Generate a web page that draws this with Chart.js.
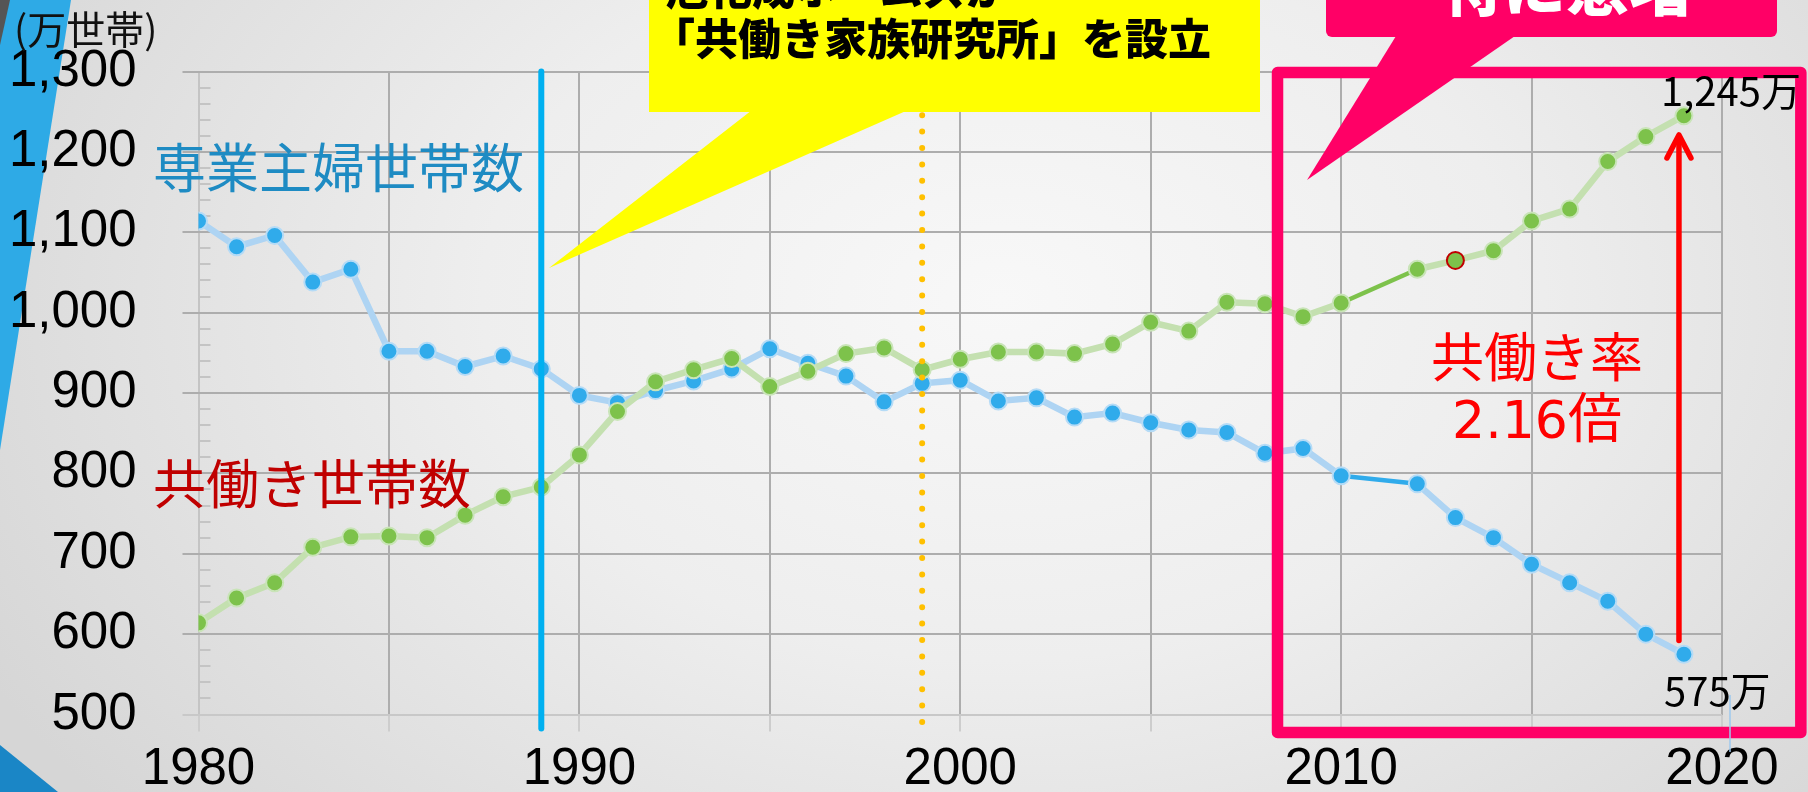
<!DOCTYPE html>
<html>
<head>
<meta charset="utf-8">
<script src="https://cdn.jsdelivr.net/npm/chart.js@4/dist/chart.umd.min.js"></script>
<style>
html,body{margin:0;padding:0;background:#e6e6e6;}
#wrap{position:relative;width:1808px;height:792px;overflow:hidden;
  background:radial-gradient(ellipse 1150px 800px at 1000px 300px,#f8f8f8 0%,#eeeeee 45%,#d6d6d6 100%);}
#c{position:absolute;left:0;top:0;}
.t{position:absolute;white-space:nowrap;font-family:"Noto Sans CJK JP","Noto Sans",sans-serif;line-height:1;}
</style>
</head>
<body>
<div id="wrap">
<canvas id="c" width="1808" height="792"></canvas>
<div class="t" style="left:14px;top:8px;font-size:39px;color:#111;">(万世帯)</div>
<div class="t" style="left:153px;top:139px;font-size:53px;color:#1e8bc3;">専業主婦世帯数</div>
<div class="t" style="left:153px;top:455px;font-size:53px;color:#c00000;">共働き世帯数</div>
<div class="t" style="left:1387px;width:300px;text-align:center;top:328px;font-size:53px;color:#ff0000;">共働き率</div>
<div class="t" style="left:1387px;width:300px;text-align:center;top:388px;font-size:54px;color:#ff0000;"><span style="font-family:'DejaVu Sans';font-size:52px;">2.16</span>倍</div>
<div class="t" style="left:1661px;top:69px;font-size:40px;color:#000;">1,245万</div>
<div class="t" style="left:1664px;top:669px;font-size:40px;color:#000;">575万</div>
<div class="t" style="left:666px;top:-35px;font-size:43px;font-weight:900;color:#000;">旭化成ホームズが</div>
<div class="t" style="left:652px;top:15px;font-size:43px;font-weight:900;color:#000;">「共働き家族研究所」を設立</div>
<div class="t" style="left:1440px;top:-49px;font-size:63px;font-weight:900;color:#fff;">特に急増</div>
</div>
<script>
// ---- data (万世帯) ----
const years = [1980,1981,1982,1983,1984,1985,1986,1987,1988,1989,
               1990,1991,1992,1993,1994,1995,1996,1997,1998,1999,
               2000,2001,2002,2003,2004,2005,2006,2007,2008,2009,
               2010,2011,2012,2013,2014,2015,2016,2017,2018,2019];
const housewifeHouseholds = [1114,1082,1096,1038,1054,952,952,933,946,930,
                             897,888,903,915,930,955,937,921,889,912,
                             916,890,894,870,875,863,854,851,825,831,
                             797,null,787,745,720,687,664,641,600,575];
const dualIncomeHouseholds = [614,645,664,708,721,722,720,748,771,783,
                              823,877,914,929,943,908,927,949,956,929,
                              942,951,951,949,961,988,977,1013,1011,995,
                              1012,null,1054,1065,1077,1114,1129,1188,1219,1245];
const yTickValues = [500,600,700,800,900,1000,1100,1200,1300];
const xGridYears = [1980,1985,1990,1995,2000,2005,2010,2015,2020];
const xLabelYears = [1980,1990,2000,2010,2020];
const highlightYear = 2013;
const markerYearBlue = 1989;
const markerYearOrange = 1999;

const toPoints = arr => years.map((yr,i)=>({x:yr,y:arr[i]}));
const isGap = c => !!(c.p0.skip || c.p1.skip);

const decor = {
  id:'decor',
  beforeDraw(chart){
    const ctx = chart.ctx;
    ctx.save();
    ctx.fillStyle='#2eaae6';
    ctx.beginPath(); ctx.moveTo(0,0); ctx.lineTo(71,0); ctx.lineTo(0,450); ctx.closePath(); ctx.fill();
    ctx.fillStyle='#555555';
    ctx.beginPath(); ctx.moveTo(0,0); ctx.lineTo(10,0); ctx.lineTo(0,45); ctx.closePath(); ctx.fill();
    ctx.fillStyle='#1a86c6';
    ctx.beginPath(); ctx.moveTo(0,745); ctx.lineTo(58,792); ctx.lineTo(0,792); ctx.closePath(); ctx.fill();
    ctx.restore();
  },
  beforeDatasetsDraw(chart){
    const {ctx, scales:{x,y}} = chart;
    ctx.save();
    ctx.strokeStyle='#c4c4c4'; ctx.lineWidth=2;
    for(let v=520; v<1300; v+=20){
      if(v%100===0) continue;
      const py = Math.round(y.getPixelForValue(v));
      ctx.beginPath(); ctx.moveTo(x.left, py); ctx.lineTo(x.left+12, py); ctx.stroke();
    }
    ctx.restore();
  },
  afterDatasetsDraw(chart){
    const {ctx, scales:{x,y}} = chart;
    ctx.save();
    ctx.lineCap='round';
    let px = x.getPixelForValue(markerYearBlue);
    ctx.strokeStyle='#00b0f0'; ctx.lineWidth=6;
    ctx.beginPath(); ctx.moveTo(px, y.getPixelForValue(1300)); ctx.lineTo(px, y.bottom+14); ctx.stroke();
    px = x.getPixelForValue(markerYearOrange);
    ctx.strokeStyle='#ffc000'; ctx.lineWidth=6; ctx.setLineDash([0,16.4]);
    ctx.beginPath(); ctx.moveTo(px, y.bottom+7.5); ctx.lineTo(px, y.getPixelForValue(1300)); ctx.stroke();
    ctx.setLineDash([]);
    ctx.strokeStyle='#ff0066'; ctx.lineWidth=11.5; ctx.lineJoin='round';
    const bx0 = x.getPixelForValue(2008.33), bx1 = x.getPixelForValue(2022.07);
    const by0 = y.getPixelForValue(1298.8), by1 = y.getPixelForValue(477.6);
    ctx.strokeRect(bx0, by0, bx1-bx0, by1-by0);
    const ax = x.getPixelForValue(2018.87);
    const aTop = y.getPixelForValue(1221), aBot = y.getPixelForValue(592);
    ctx.strokeStyle='#ff0000'; ctx.lineWidth=5.5;
    ctx.beginPath(); ctx.moveTo(ax, aBot); ctx.lineTo(ax, aTop+2); ctx.stroke();
    ctx.beginPath(); ctx.moveTo(ax-12, aTop+23); ctx.lineTo(ax, aTop); ctx.lineTo(ax+12, aTop+23); ctx.stroke();
    ctx.strokeStyle='#9cc8ee'; ctx.lineWidth=1.5; ctx.lineCap='butt';
    ctx.beginPath(); ctx.moveTo(1730, 695); ctx.lineTo(1730, 752); ctx.stroke();
    ctx.restore();
  },
  afterDraw(chart){
    const ctx = chart.ctx;
    ctx.save();
    ctx.fillStyle='#ffff00';
    ctx.beginPath();
    ctx.moveTo(649,0); ctx.lineTo(1260,0); ctx.lineTo(1260,112); ctx.lineTo(903.6,112);
    ctx.lineTo(549,268); ctx.lineTo(749.5,112); ctx.lineTo(649,112); ctx.closePath(); ctx.fill();
    ctx.fillStyle='#ff0066';
    ctx.beginPath();
    ctx.roundRect(1326,-20,451,57,6); ctx.fill();
    ctx.beginPath();
    ctx.moveTo(1396,36); ctx.lineTo(1307,180); ctx.lineTo(1515,36); ctx.closePath(); ctx.fill();
    ctx.restore();
  }
};

const gridColor = '#adadad';
new Chart(document.getElementById('c'), {
  type:'line',
  data:{
    datasets:[
      {
        label:'共働き世帯数',
        data: toPoints(dualIncomeHouseholds),
        borderColor:'#c4e0b0', borderWidth:6.5,
        pointBackgroundColor:'#7dc24b',
        pointBorderColor: c => (years[c.dataIndex]===highlightYear ? '#c00000' : '#c9e4b8'),
        pointBorderWidth:2, pointRadius:8.5,
        spanGaps:true, tension:0,
        segment:{ borderColor: c => isGap(c) ? '#7dc24b' : undefined,
                  borderWidth: c => isGap(c) ? 4.5 : undefined }
      },
      {
        label:'専業主婦世帯数',
        data: toPoints(housewifeHouseholds),
        borderColor:'#aed4f3', borderWidth:6.5,
        pointBackgroundColor:'#30abeb',
        pointBorderColor:'#b5dbf6',
        pointBorderWidth:2, pointRadius:8.5,
        spanGaps:true, tension:0,
        segment:{ borderColor: c => isGap(c) ? '#30abeb' : undefined,
                  borderWidth: c => isGap(c) ? 4.5 : undefined }
      }
    ]
  },
  options:{
    responsive:false, animation:false, events:[],
    layout:{padding:{top:71.5, right:86, left:0, bottom:0}},
    plugins:{legend:{display:false}, tooltip:{enabled:false}},
    scales:{
      x:{
        type:'linear', min:1980, max:2020,
        afterBuildTicks: s => { s.ticks = xGridYears.map(v=>({value:v})); },
        ticks:{ callback: v => xLabelYears.includes(v) ? String(v) : '',
                font:{family:'Liberation Sans', size:51}, color:'#000', padding:8,
                maxRotation:0, autoSkip:false },
        grid:{ color: c => (c.tick && c.tick.value===1980 ? '#c4c4c4' : gridColor), lineWidth:2,
               tickLength:17, tickColor:'#cdcdcd' },
        border:{display:false},
        afterFit: s => { s.height = 77.5; }
      },
      y:{
        min:500, max:1300,
        afterBuildTicks: s => { s.ticks = yTickValues.map(v=>({value:v})); },
        ticks:{ callback: v => v.toLocaleString('en-US'),
                font:{family:'Liberation Sans', size:51}, color:'#000', padding:46 },
        grid:{ color: c => (c.tick && c.tick.value===500 ? '#c8c8c8' : gridColor), lineWidth:2,
               tickLength:16, tickColor: c => (c.tick && c.tick.value===500 ? '#c8c8c8' : gridColor) },
        border:{display:false},
        afterFit: s => { s.width = 198.5; s.paddingTop = 30; s.paddingBottom = 30; }
      }
    }
  },
  plugins:[decor]
});
</script>
</body>
</html>
